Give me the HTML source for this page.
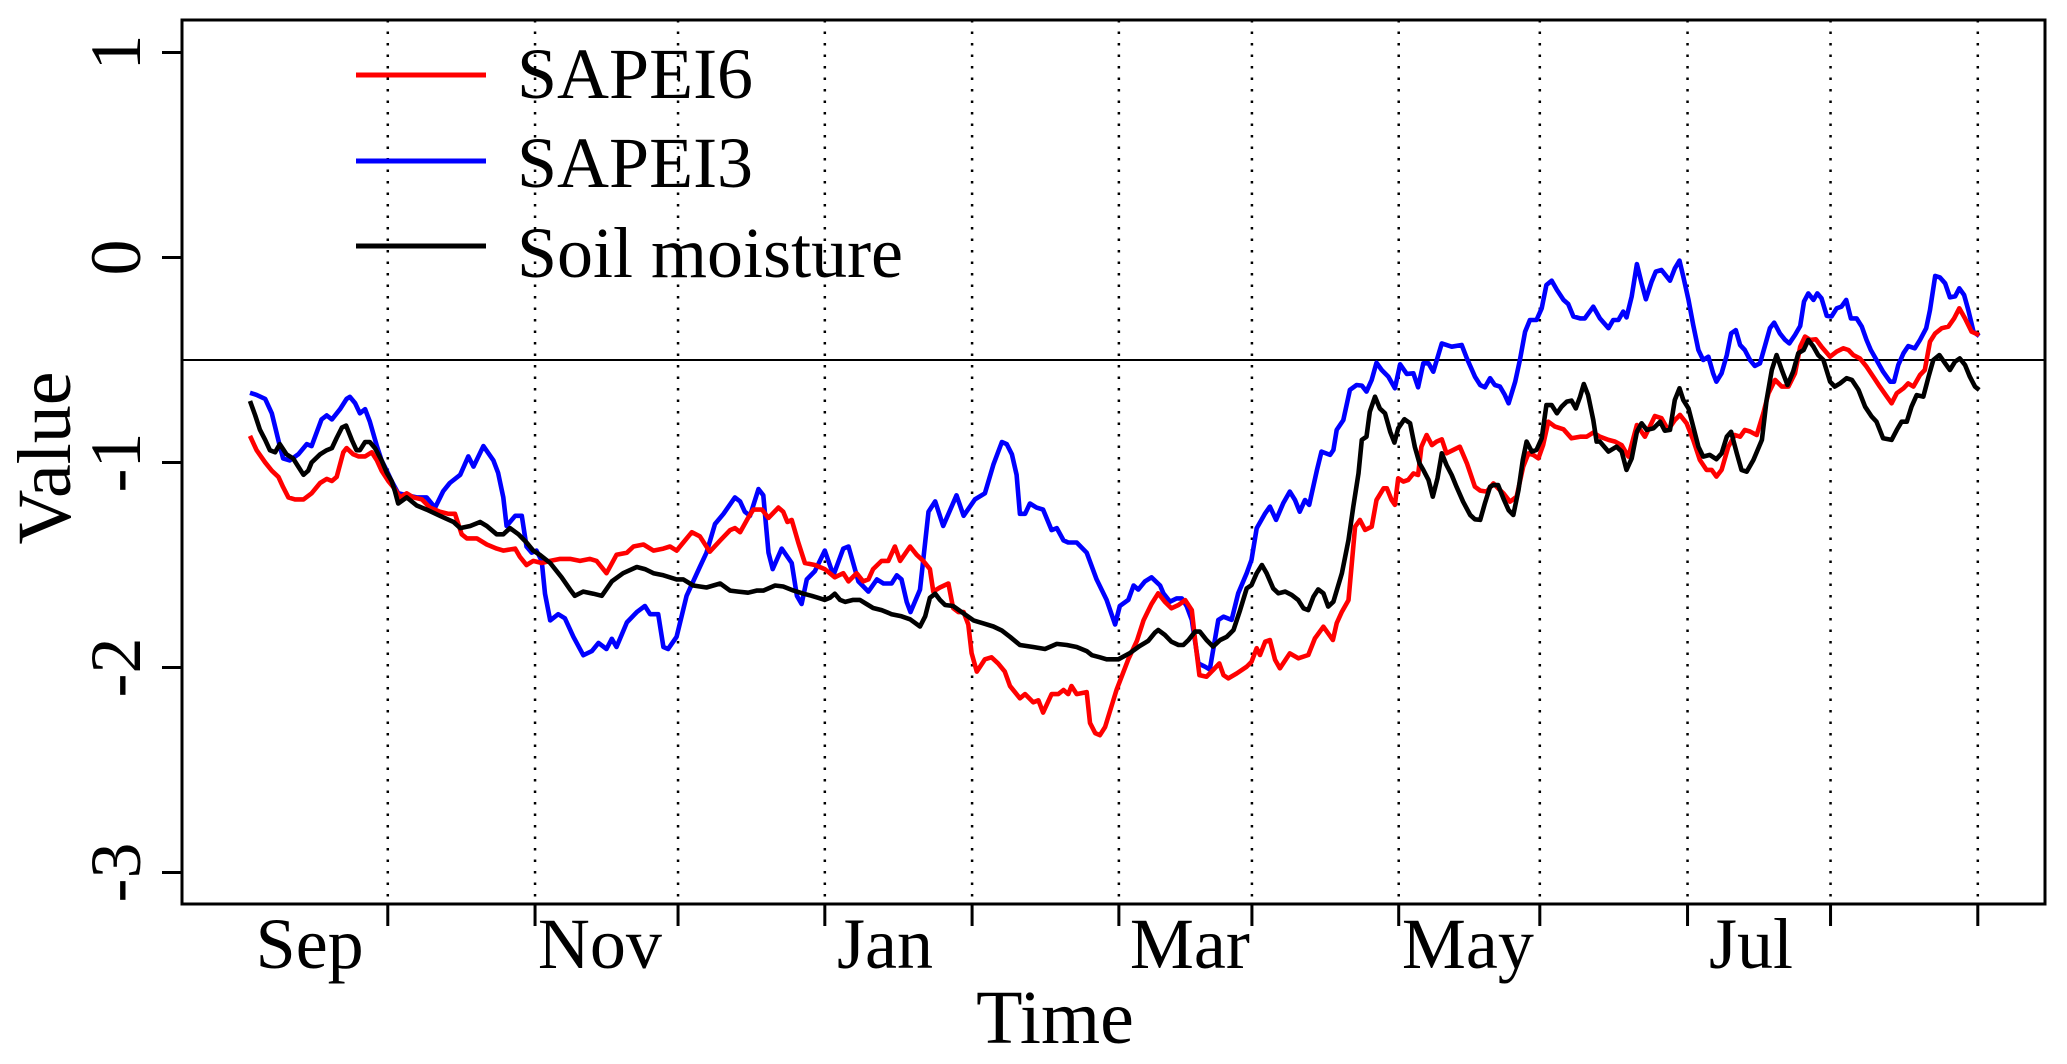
<!DOCTYPE html>
<html><head><meta charset="utf-8"><style>
html,body{margin:0;padding:0;background:#fff;}
svg{display:block;font-family:"Liberation Serif",serif;}
</style></head><body>
<svg id="chart" width="2067" height="1064" viewBox="0 0 2067 1064" xmlns="http://www.w3.org/2000/svg">
<rect x="0" y="0" width="2067" height="1064" fill="#fff"/>
<g id="grid"></g>
<line x1="182" y1="360" x2="2045" y2="360" stroke="#000" stroke-width="2"/>
<g id="series"></g>
<rect x="182" y="20" width="1863" height="884" fill="none" stroke="#000" stroke-width="3"/>
<g id="axes"></g>
<g>
<line x1="356" y1="75" x2="486" y2="75" stroke="#ff0000" stroke-width="5"/>
<text x="517" y="98" font-size="72">SAPEI6</text>
<line x1="356" y1="161" x2="486" y2="161" stroke="#0000ff" stroke-width="5"/>
<text x="517" y="187" font-size="72">SAPEI3</text>
<line x1="356" y1="246" x2="486" y2="246" stroke="#000" stroke-width="5"/>
<text x="517" y="277" font-size="72">Soil moisture</text>
</g>
<text x="70" y="458" font-size="76" text-anchor="middle" transform="rotate(-90 70 458)">Value</text>
<text x="1055" y="1043" font-size="76" text-anchor="middle">Time</text>
</svg>
<script>
const yTicks = [1, 0, -1, -2, -3];
const yTickLabels = ["1", "0", "-1", "-2", "-3"];
const monthTickDays = [29.1, 60.2, 90.4, 121.4, 152.5, 183.5, 211.6, 242.6, 272.4, 303.6, 333.8, 364.9];
const monthLabels = ["Sep", "Nov", "Jan", "Mar", "May", "Jul"];
const monthLabelDays = [12.6, 73.9, 134.1, 198.5, 257.2, 317.0];
const threshold = -0.5;

const sapei3Days = [0,1.4,3.2,4.6,6.3,7,8.4,10.2,12,13,15.1,16.2,17.3,19,20.4,21.1,22.2,23.2,24.3,25.3,26.8,27.8,28.9,29.9,31.3,33.1,35.2,37.3,39.1,40.8,42.2,44.4,46.1,47.2,49.3,51.4,52.4,53.5,54.2,56,57.4,58.4,59.5,60.5,61.6,62.3,63.4,65.1,66.5,68.3,70.4,72.2,73.6,75.3,76.4,77.4,79.6,81.7,83.4,84.5,86.2,87.3,88.3,90.1,92.2,95,
96.4,98.2,100,102.4,103.5,104.5,105.6,107.4,108.4,109.5,110.4,112.3,114.4,115.5,116.5,117.6,119.3,121.4,123.2,125.3,126.4,128.5,130.6,132.4,133.8,135.5,136.6,137.6,138.7,139.5,141.5,143.3,144.7,146.4,149.2,150.7,153.1,155.2,157,158.8,159.8,160.9,161.9,162.6,163.7,164.7,166.1,167.5,169.3,170.4,171.8,172.8,174.6,176.7,178.8,180.9,182.7,183.7,185.5,186.6,187.6,189,190.4,192.2,
192.9,194.3,195.7,196.8,197.8,198.9,200.3,201.7,202.7,204.5,205.6,207.3,208.7,210.5,211.5,212.6,214.4,215.4,216.7,218.2,219.6,220.7,221.7,222.8,223.7,225.3,226.3,228.1,228.8,229.5,230.9,232.3,233.7,234.8,235.8,236.9,237.9,239,240.4,241.8,242.9,244.3,245.7,246.7,247.8,248.9,249.9,251.7,253.8,255.9,257,258.7,259.8,260.8,261.9,262.9,264,265,265.8,267.2,268.2,269.3,270.3,271.7,272.8,273.8,274.9,276,277.4,278.4,279.5,280.9,281.9,283.7,
285.1,286.9,287.9,289,290,290.7,291.8,292.9,293.9,294.8,296,296.9,298.1,299.9,300.9,301.9,302.7,303.8,304.8,305.9,306.9,308,309,309.7,310.8,311.9,312.8,313.8,314.7,315.7,316.8,317.8,318.9,320,321,321.9,323.1,324.2,325.1,326.3,327.4,328.2,329.1,330.2,331,331.9,333,334,335.1,336.1,337.1,338.1,339.3,340.4,341.4,342.3,343.5,344.9,346.4,347.2,348.1,349.2,350.2,351.6,352.7,354,354.8,355.9,356.9,358,359,360.1,361,362,362.9,364,365.2];
const sapei3Vals = [-0.66,-0.67,-0.69,-0.76,-0.92,-0.98,-0.99,-0.96,-0.91,-0.92,-0.79,-0.77,-0.79,-0.74,-0.69,-0.68,-0.71,-0.76,-0.74,-0.8,-0.92,-0.99,-1.04,-1.09,-1.15,-1.16,-1.17,-1.17,-1.22,-1.14,-1.1,-1.06,-0.97,-1.02,-0.92,-0.99,-1.05,-1.17,-1.31,-1.26,-1.26,-1.41,-1.44,-1.43,-1.48,-1.64,-1.77,-1.74,-1.76,-1.85,-1.94,-1.92,-1.88,-1.91,-1.86,-1.9,-1.78,-1.73,-1.7,-1.74,-1.74,-1.9,-1.91,-1.85,-1.65,-1.51,
-1.44,-1.3,-1.25,-1.17,-1.19,-1.24,-1.26,-1.13,-1.16,-1.44,-1.52,-1.42,-1.49,-1.65,-1.69,-1.57,-1.53,-1.43,-1.55,-1.42,-1.41,-1.58,-1.63,-1.57,-1.59,-1.59,-1.55,-1.57,-1.68,-1.73,-1.62,-1.24,-1.19,-1.31,-1.16,-1.26,-1.18,-1.15,-1.01,-0.9,-0.91,-0.96,-1.06,-1.25,-1.25,-1.2,-1.22,-1.23,-1.33,-1.32,-1.38,-1.39,-1.39,-1.44,-1.57,-1.67,-1.79,-1.7,-1.67,-1.6,-1.62,-1.58,-1.56,-1.6,
-1.638,-1.679,-1.663,-1.663,-1.7,-1.768,-1.98,-1.996,-2.01,-1.768,-1.752,-1.768,-1.638,-1.54,-1.475,-1.321,-1.248,-1.215,-1.28,-1.199,-1.142,-1.183,-1.24,-1.183,-1.207,-1.04,-0.947,-0.963,-0.939,-0.841,-0.793,-0.646,-0.622,-0.625,-0.654,-0.597,-0.513,-0.549,-0.581,-0.638,-0.521,-0.568,-0.565,-0.633,-0.516,-0.516,-0.557,-0.419,-0.435,-0.427,-0.492,-0.581,-0.622,-0.633,-0.589,-0.622,-0.63,-0.67,-0.711,-0.606,-0.5,-0.362,-0.305,-0.305,-0.248,-0.134,-0.113,-0.158,-0.207,-0.227,-0.288,-0.297,-0.297,-0.24,
-0.297,-0.345,-0.305,-0.305,-0.264,-0.292,-0.19,-0.032,-0.126,-0.204,-0.118,-0.069,-0.061,-0.113,-0.053,-0.015,-0.093,-0.207,-0.329,-0.451,-0.5,-0.484,-0.565,-0.606,-0.565,-0.476,-0.37,-0.354,-0.427,-0.451,-0.5,-0.529,-0.516,-0.427,-0.345,-0.318,-0.37,-0.402,-0.419,-0.378,-0.334,-0.215,-0.175,-0.207,-0.175,-0.199,-0.285,-0.288,-0.248,-0.24,-0.207,-0.297,-0.297,-0.337,-0.402,-0.451,-0.5,-0.557,-0.606,-0.606,-0.524,-0.467,-0.432,-0.443,-0.402,-0.345,-0.256,-0.09,-0.097,-0.126,-0.194,-0.19,-0.15,-0.183,-0.256,-0.362,-0.383];

const sapei6Days = [0,1.4,3.2,4.6,6,7,8.1,9.5,11.3,13,14.8,16.2,17.3,18.3,19.7,20.4,21.8,22.9,24.3,25.7,26.8,27.8,29.2,30.6,31.7,33.1,34.5,36.3,38,40.1,41.9,43.3,44.7,45.8,47.9,50,52.1,53.5,56,57,58.4,59.8,61.6,63.4,65.5,67.6,69.7,71.8,73.2,75.3,77.4,79.6,81,83.1,85.2,87.3,88.7,90.1,91.5,93.3,
95,97.1,99.3,101.4,102.4,103.5,105.2,106.3,108.1,109.5,111.6,112.6,113.5,114.4,115.8,117.2,119.3,121.4,123.5,125.3,126.4,128.1,129.5,130.6,131.6,133.4,134.8,136.2,137.3,139.4,140.8,142.2,143.6,144.3,145.7,147.5,148.5,149.6,150.7,151.7,152.4,153.5,155.2,156.6,158,159.4,160.5,162.6,163.7,165.4,166.5,167.5,169.3,170.7,171.8,172.8,173.5,174.6,176.7,177.4,178.5,179.5,180.6,183,185.5,187.3,188.7,190.4,
191.8,193.2,194.6,196.1,197.5,198.9,199.6,200.5,202,203.4,204.7,205.6,206.6,208.4,210.5,211.5,212.6,213.3,214.4,215.4,216.5,217.5,219.6,221.4,223.5,224.9,226.7,228.7,229.5,230.6,232,233.4,234.4,235.5,236.9,237.9,239.4,240.1,241.1,241.8,242.5,243.6,244.6,245.7,246.7,247.4,248.5,249.6,250.6,251.7,252.7,254.1,255.5,257,258.7,259.8,261.2,262.6,263.6,264.7,266.1,267.5,268.9,270,271,272.1,273.1,274.2,275.6,277.4,279.1,280.9,282.3,283.7,
285.1,286.9,288.3,289.7,291.1,292.9,294.6,296.7,298.1,299.5,300.9,302,303.4,304.8,306.2,307.6,308.7,309.7,310.8,312.2,313.6,314.7,315.7,316.8,318.2,319.6,320.7,322.1,323.5,324.9,326.3,327.4,328.4,329.5,330.7,331.9,333.7,335.1,336.5,337.6,338.6,340,341.4,342.8,344.2,345.7,346.7,347.8,349.2,350.2,351.3,352.7,353.7,354.8,355.9,357.3,358.7,359.9,361,362.2,363.6,365.2];
const sapei6Vals = [-0.87,-0.94,-1,-1.04,-1.07,-1.12,-1.17,-1.18,-1.18,-1.15,-1.1,-1.08,-1.09,-1.07,-0.95,-0.93,-0.96,-0.97,-0.97,-0.95,-0.99,-1.04,-1.09,-1.13,-1.17,-1.15,-1.17,-1.18,-1.22,-1.24,-1.25,-1.25,-1.35,-1.37,-1.37,-1.4,-1.42,-1.43,-1.42,-1.46,-1.5,-1.48,-1.49,-1.48,-1.47,-1.47,-1.48,-1.47,-1.48,-1.54,-1.45,-1.44,-1.41,-1.4,-1.43,-1.42,-1.41,-1.43,-1.39,-1.34,
-1.36,-1.435,-1.38,-1.33,-1.32,-1.34,-1.27,-1.23,-1.23,-1.27,-1.22,-1.24,-1.29,-1.28,-1.39,-1.49,-1.5,-1.52,-1.56,-1.54,-1.58,-1.54,-1.58,-1.57,-1.52,-1.48,-1.48,-1.41,-1.48,-1.41,-1.45,-1.48,-1.52,-1.63,-1.61,-1.59,-1.71,-1.73,-1.73,-1.79,-1.93,-2.02,-1.96,-1.95,-1.98,-2.02,-2.09,-2.15,-2.13,-2.17,-2.16,-2.22,-2.13,-2.13,-2.11,-2.13,-2.09,-2.13,-2.12,-2.27,-2.32,-2.33,-2.29,-2.11,-1.96,-1.87,-1.77,-1.69,
-1.638,-1.679,-1.711,-1.695,-1.671,-1.72,-1.866,-2.037,-2.045,-2.012,-1.98,-2.037,-2.053,-2.029,-1.996,-1.972,-1.906,-1.939,-1.874,-1.866,-1.963,-2.004,-1.931,-1.955,-1.939,-1.858,-1.801,-1.866,-1.784,-1.728,-1.671,-1.313,-1.28,-1.329,-1.313,-1.183,-1.126,-1.126,-1.183,-1.207,-1.077,-1.093,-1.085,-1.053,-1.061,-0.923,-0.866,-0.915,-0.898,-0.887,-0.955,-0.939,-0.923,-1.004,-1.118,-1.137,-1.142,-1.102,-1.126,-1.15,-1.191,-1.167,-1.02,-0.955,-0.963,-0.98,-0.915,-0.801,-0.825,-0.838,-0.882,-0.874,-0.874,-0.854,
-0.874,-0.89,-0.898,-0.915,-0.971,-0.817,-0.874,-0.773,-0.784,-0.841,-0.793,-0.768,-0.809,-0.89,-0.988,-1.036,-1.036,-1.069,-1.036,-0.923,-0.866,-0.874,-0.841,-0.849,-0.866,-0.76,-0.662,-0.597,-0.63,-0.63,-0.565,-0.435,-0.386,-0.402,-0.399,-0.435,-0.484,-0.459,-0.443,-0.451,-0.476,-0.492,-0.532,-0.581,-0.63,-0.679,-0.711,-0.662,-0.638,-0.614,-0.63,-0.573,-0.549,-0.41,-0.37,-0.345,-0.337,-0.297,-0.248,-0.297,-0.362,-0.378];

const soilDays = [0,1.1,2.1,3.2,4.2,5.3,6.3,7.7,9.1,10.2,11.3,12.3,13,14.8,16.2,17.3,18.3,19.4,20.3,21.5,22.5,23.2,24.3,25.3,26.4,27.8,28.9,29.9,30.6,31.3,33.1,35.2,37.3,40.1,43,44.4,46.5,48.6,50,52.1,53.5,54.9,56.7,58.4,59.8,61.2,63.4,65.8,67.6,68.6,70.4,72.5,74.3,76.4,78.8,81.7,83.4,85.2,87.3,90.1,91.5,93.6,
95,96.4,99.3,101.4,103.1,105.2,107,108.4,110.9,112.6,114.8,116.9,118.6,120,121.4,122.5,123.5,124.6,125.7,127.4,128.8,130.2,131.6,133.4,135.5,137.6,139.4,141.5,142.6,143.6,144.7,145.7,146.8,148.5,150.3,152.8,154.9,157,158.8,160.5,162.6,165.4,167.9,170.4,172.5,174.6,176.7,177.8,179.5,180.9,183.4,185.8,187.9,189.7,191.1,
191.8,193.2,194.6,196.1,197.1,198.2,199.6,200.6,202,203.4,204.9,206.3,207.7,209.1,210.5,211.5,212.6,213.7,214.7,216.1,217.2,218.6,220,221.4,222.5,223.5,224.6,225.6,226.7,227.7,228.8,230.6,232,233,234.1,234.8,235.8,236.5,237.6,238.6,239.7,240.8,241.7,242.5,243.8,245,246,247,247.8,248.9,249.8,250.8,251.7,252.7,253.8,254.8,256.2,257.7,258.7,259.8,260.8,261.9,262.6,263.6,264.7,265.8,266.8,267.9,268.8,269.6,270.7,271.7,272.8,273.8,274.9,276,277,278.1,279.1,280,280.9,281.7,282.6,283.7,284.4,
285.1,286.9,288.6,289.7,290.7,291.8,292.9,293.9,295,296.4,297.8,298.8,299.9,300.9,301.9,302.7,303.8,304.8,305.9,306.9,308.3,309.7,310.8,311.9,312.8,314,315,316.1,317.5,319.3,320.3,321.4,322.4,323.5,324.7,325.9,327,328.1,329.1,330.2,331.2,332.3,333.7,334.7,335.8,337.2,338.3,339.7,341.1,342.5,343.5,344.9,346.7,347.8,348.8,349.9,350.9,352,353.4,354.5,355.5,356.8,358,359,360.1,361.1,362.2,363.2,364.3,365.2];
const soilVals = [-0.7,-0.77,-0.84,-0.89,-0.94,-0.95,-0.91,-0.96,-0.98,-1.02,-1.06,-1.04,-1,-0.96,-0.94,-0.93,-0.88,-0.83,-0.82,-0.89,-0.94,-0.94,-0.9,-0.9,-0.93,-0.99,-1.05,-1.09,-1.14,-1.2,-1.17,-1.21,-1.23,-1.26,-1.29,-1.32,-1.31,-1.29,-1.31,-1.35,-1.35,-1.32,-1.35,-1.39,-1.43,-1.45,-1.49,-1.56,-1.62,-1.65,-1.63,-1.64,-1.65,-1.58,-1.54,-1.51,-1.52,-1.54,-1.55,-1.57,-1.57,-1.6,
-1.605,-1.61,-1.59,-1.625,-1.63,-1.635,-1.625,-1.625,-1.6,-1.605,-1.625,-1.64,-1.65,-1.66,-1.67,-1.66,-1.64,-1.67,-1.68,-1.67,-1.67,-1.69,-1.71,-1.72,-1.74,-1.75,-1.765,-1.8,-1.75,-1.66,-1.64,-1.67,-1.695,-1.7,-1.73,-1.77,-1.785,-1.8,-1.82,-1.85,-1.89,-1.9,-1.91,-1.885,-1.89,-1.9,-1.92,-1.94,-1.95,-1.96,-1.96,-1.93,-1.895,-1.87,-1.83,
-1.817,-1.841,-1.874,-1.89,-1.89,-1.866,-1.825,-1.825,-1.866,-1.898,-1.866,-1.85,-1.817,-1.72,-1.614,-1.598,-1.54,-1.5,-1.54,-1.614,-1.638,-1.63,-1.646,-1.671,-1.711,-1.72,-1.654,-1.619,-1.638,-1.703,-1.679,-1.54,-1.378,-1.215,-1.053,-0.89,-0.874,-0.752,-0.679,-0.736,-0.76,-0.85,-0.903,-0.833,-0.789,-0.809,-0.923,-1.004,-1.036,-1.085,-1.167,-1.077,-0.955,-1.012,-1.061,-1.118,-1.191,-1.256,-1.277,-1.28,-1.199,-1.118,-1.11,-1.11,-1.175,-1.232,-1.256,-1.134,-0.988,-0.898,-0.947,-0.939,-0.882,-0.72,-0.72,-0.76,-0.728,-0.703,-0.698,-0.736,-0.679,-0.617,-0.671,-0.793,-0.898,
-0.898,-0.947,-0.923,-0.947,-1.036,-0.98,-0.85,-0.809,-0.841,-0.833,-0.801,-0.845,-0.841,-0.695,-0.638,-0.695,-0.736,-0.825,-0.923,-0.971,-0.963,-0.984,-0.955,-0.874,-0.85,-0.955,-1.036,-1.045,-0.988,-0.89,-0.695,-0.549,-0.476,-0.549,-0.622,-0.557,-0.467,-0.451,-0.402,-0.435,-0.476,-0.5,-0.606,-0.63,-0.614,-0.589,-0.597,-0.646,-0.728,-0.776,-0.801,-0.882,-0.89,-0.841,-0.801,-0.801,-0.728,-0.671,-0.679,-0.581,-0.5,-0.476,-0.516,-0.549,-0.508,-0.492,-0.524,-0.581,-0.63,-0.646];

const NS = "http://www.w3.org/2000/svg";
function xScale(d){ return 250 + d * 4.735; }
function yScale(v){ return 360 - (v - threshold) * 205; }

const grid = document.getElementById("grid");
const axes = document.getElementById("axes");
const seriesG = document.getElementById("series");

monthTickDays.forEach(function(d){
  const x = xScale(d);
  const gl = document.createElementNS(NS, "line");
  gl.setAttribute("x1", x); gl.setAttribute("x2", x);
  gl.setAttribute("y1", 20); gl.setAttribute("y2", 904);
  gl.setAttribute("stroke", "#000"); gl.setAttribute("stroke-width", "2.5");
  gl.setAttribute("stroke-dasharray", "2.5 9");
  
  
  grid.appendChild(gl);
  const tk = document.createElementNS(NS, "line");
  tk.setAttribute("x1", x); tk.setAttribute("x2", x);
  tk.setAttribute("y1", 904); tk.setAttribute("y2", 926);
  tk.setAttribute("stroke", "#000"); tk.setAttribute("stroke-width", "3");
  
  
  axes.appendChild(tk);
});

monthLabels.forEach(function(lab, i){
  const t = document.createElementNS(NS, "text");
  t.setAttribute("x", xScale(monthLabelDays[i]));
  t.setAttribute("y", 968);
  t.setAttribute("font-size", "72");
  t.setAttribute("text-anchor", "middle");
  t.textContent = lab;
  
  
  axes.appendChild(t);
});

yTicks.forEach(function(v, i){
  const y = yScale(v);
  const tk = document.createElementNS(NS, "line");
  tk.setAttribute("x1", 162); tk.setAttribute("x2", 182);
  tk.setAttribute("y1", y); tk.setAttribute("y2", y);
  tk.setAttribute("stroke", "#000"); tk.setAttribute("stroke-width", "3");
  
  
  axes.appendChild(tk);
  const t = document.createElementNS(NS, "text");
  t.setAttribute("x", 140); t.setAttribute("y", y);
  t.setAttribute("font-size", "72");
  t.setAttribute("text-anchor", "middle");
  t.setAttribute("transform", "rotate(-90 140 " + y + ")");
  t.textContent = yTickLabels[i];
  
  
  axes.appendChild(t);
});

function drawSeries(days, vals, color, name){
  let d = "";
  for (let i = 0; i < days.length; i++){
    d += (i ? "L" : "M") + xScale(days[i]).toFixed(1) + "," + yScale(vals[i]).toFixed(1);
  }
  const p = document.createElementNS(NS, "path");
  p.setAttribute("d", d);
  p.setAttribute("fill", "none");
  p.setAttribute("stroke", color);
  p.setAttribute("stroke-width", "4.6");
  p.setAttribute("stroke-linejoin", "round");
  
  
  seriesG.appendChild(p);
}
drawSeries(sapei3Days, sapei3Vals, "#0000ff", "sapei3-line");
drawSeries(sapei6Days, sapei6Vals, "#ff0000", "sapei6-line");
drawSeries(soilDays, soilVals, "#000000", "soil-moisture-line");
</script>
</body></html>
